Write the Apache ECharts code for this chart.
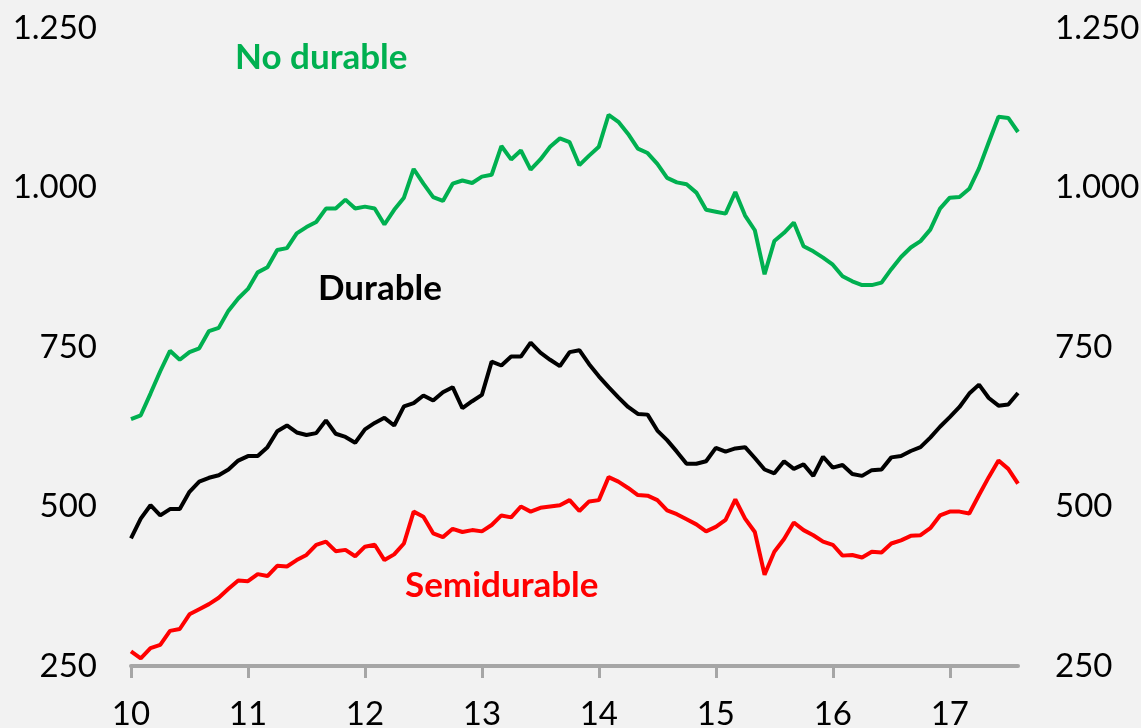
<!DOCTYPE html>
<html>
<head>
<meta charset="utf-8">
<script src="https://cdn.jsdelivr.net/npm/echarts@6/dist/echarts.min.js"></script>
<style>
html,body{margin:0;padding:0;background:#f2f2f2;}
#c{width:1141px;height:728px;}
</style>
</head>
<body>
<div id="c"></div>
<script>
// Monthly series, Jan 2010 .. Aug 2017
const startYear = 2010;
const nMonths = 92;
const yTicks = [250, 500, 750, 1000, 1250];

const noDurable = [637,643,677,712,744,730,742,748,775,780,807,826,
  841,867,875,902,905,928,938,946,967,967,981,967,
  970,967,942,965,984,1029,1006,985,979,1006,1011,1007,
  1017,1020,1065,1044,1058,1028,1044,1064,1077,1071,1035,1050,
  1064,1114,1103,1084,1061,1054,1037,1015,1008,1005,992,965,
  962,959,993,956,933,864,916,929,945,908,900,890,
  879,861,853,847,847,851,872,891,906,916,934,967,
  984,985,998,1030,1071,1111,1109,1087];

const durable = [450,481,502,486,496,496,523,539,545,549,558,572,
  579,579,593,618,627,616,612,615,635,614,609,600,
  621,631,639,627,657,662,674,666,679,687,654,665,
  675,727,721,735,735,757,741,730,720,742,745,723,
  704,687,671,656,645,644,619,604,586,567,567,571,
  592,586,591,593,576,558,552,571,559,566,548,578,
  561,565,551,548,557,558,577,579,587,593,608,625,
  640,656,677,691,670,658,660,678];

const semidurable = [273,262,278,283,305,308,331,339,347,357,371,384,
  383,394,391,407,406,416,424,440,445,430,432,422,
  437,440,416,425,442,492,484,458,452,465,460,463,
  461,471,486,483,500,492,498,500,502,510,493,508,
  510,546,539,529,518,517,510,494,488,480,472,461,
  468,479,511,481,460,393,429,449,475,463,455,445,
  440,423,424,420,429,428,442,447,454,455,466,486,
  492,492,489,518,546,572,559,536];

const categories = [];
for (let i = 0; i < nMonths; i++) {
  const y = startYear + Math.floor(i / 12);
  const m = (i % 12) + 1;
  categories.push(y + '-' + (m < 10 ? '0' + m : m));
}

const FONT = 'Lato';
const fmt = v => String(v).replace(/\B(?=(\d{3})+(?!\d))/g, '.');
const isYearStart = idx => idx % 12 === 0;

const chart = echarts.init(document.getElementById('c'), null, {renderer: 'canvas'});
const yAxisBase = {
  type: 'value', min: 250, max: 1250, interval: 250,
  axisLine: {show: false}, axisTick: {show: false}, splitLine: {show: false},
  axisLabel: {fontFamily: FONT, fontSize: 33, color: '#000', formatter: fmt}
};
chart.setOption({
  backgroundColor: '#f2f2f2',
  animation: false,
  grid: {left: 131, right: 123, top: 28, bottom: 62, containLabel: false, outerBoundsMode: 'none'},
  xAxis: {
    type: 'category', data: categories, boundaryGap: false,
    axisLine: {show: true, lineStyle: {color: '#a6a6a6', width: 4}},
    axisTick: {show: true, interval: (idx) => isYearStart(idx), length: 12, lineStyle: {color: '#a6a6a6', width: 3}},
    axisLabel: {interval: (idx) => isYearStart(idx), fontFamily: FONT, fontSize: 33, color: '#000', margin: 32,
      formatter: v => v.slice(2, 4)},
    splitLine: {show: false}
  },
  yAxis: [
    Object.assign({}, yAxisBase, {position: 'left', axisLabel: Object.assign({}, yAxisBase.axisLabel, {margin: 34})}),
    Object.assign({}, yAxisBase, {position: 'right', axisLabel: Object.assign({}, yAxisBase.axisLabel, {margin: 37})})
  ],
  series: [
    {name: 'No durable', type: 'line', data: noDurable, showSymbol: false, lineStyle: {color: '#00b050', width: 4}, itemStyle: {color: '#00b050'}},
    {name: 'Durable', type: 'line', data: durable, showSymbol: false, lineStyle: {color: '#000000', width: 4}, itemStyle: {color: '#000'}},
    {name: 'Semidurable', type: 'line', data: semidurable, showSymbol: false, lineStyle: {color: '#ff0000', width: 4}, itemStyle: {color: '#ff0000'}}
  ],
  graphic: [
    {type: 'text', left: 235, top: 40, style: {text: 'No durable', fill: '#00b050', font: 'bold 35px ' + FONT}},
    {type: 'text', left: 318, top: 271, style: {text: 'Durable', fill: '#000000', font: 'bold 35px ' + FONT}},
    {type: 'text', left: 405, top: 568, style: {text: 'Semidurable', fill: '#ff0000', font: 'bold 35px ' + FONT}}
  ]
});
</script>
</body>
</html>
